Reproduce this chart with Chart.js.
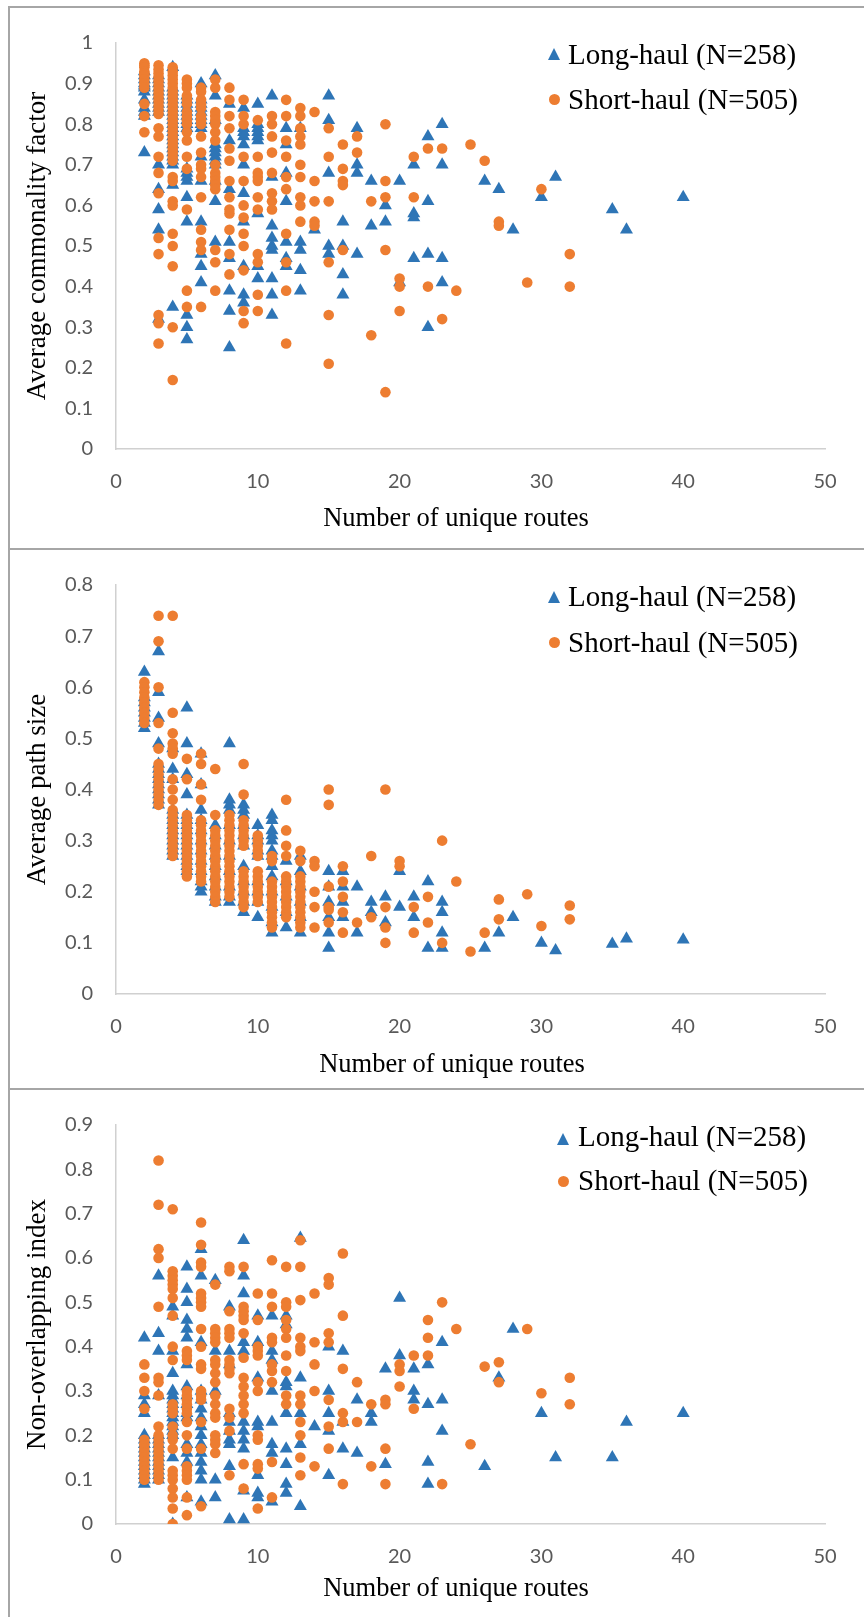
<!DOCTYPE html>
<html><head><meta charset="utf-8">
<script src="https://cdn.jsdelivr.net/npm/chart.js@4.4.1/dist/chart.umd.min.js"></script>
<style>
html,body{margin:0;padding:0;background:#fff;}
#page{position:relative;width:864px;height:1617px;overflow:hidden;background:#fff;}
.line{position:absolute;background:#a6a6a6;}
canvas{position:absolute;}
.lg{position:absolute;font-family:"Liberation Serif","Times New Roman",serif;font-size:29px;line-height:29px;color:#000;white-space:nowrap;z-index:2;}
.xt{position:absolute;width:400px;text-align:center;font-family:"Liberation Serif","Times New Roman",serif;font-size:26.5px;line-height:32px;height:32px;color:#000;white-space:nowrap;z-index:2;}
.tri{position:absolute;width:0;height:0;border-left:6.5px solid transparent;border-right:6.5px solid transparent;border-bottom:12px solid #2E75B6;z-index:2;}
.dot{position:absolute;width:11px;height:11px;border-radius:50%;background:#ED7D31;z-index:2;}
</style></head>
<body><div id="page">
<div class="line" style="left:8px;top:6px;width:856px;height:2px"></div>
<div class="line" style="left:8px;top:6px;width:2px;height:1611px"></div>
<div class="line" style="left:8px;top:548px;width:856px;height:2px"></div>
<div class="line" style="left:8px;top:1088px;width:856px;height:2px"></div>
<canvas id="c1" width="854" height="540" style="left:10px;top:8px"></canvas>
<canvas id="c2" width="854" height="538" style="left:10px;top:550px"></canvas>
<canvas id="c3" width="854" height="527" style="left:10px;top:1090px"></canvas>

<div class="tri" style="left:547.5px;top:48px"></div>
<div class="lg" style="left:568px;top:40px">Long-haul (N=258)</div>
<div class="dot" style="left:548.5px;top:93.8px"></div>
<div class="lg" style="left:568px;top:85px">Short-haul (N=505)</div>
<div class="xt" style="left:256px;top:501px">Number of unique routes</div>

<div class="tri" style="left:547.5px;top:591px"></div>
<div class="lg" style="left:568px;top:582.4px">Long-haul (N=258)</div>
<div class="dot" style="left:548.5px;top:636.8px"></div>
<div class="lg" style="left:568px;top:627.7px">Short-haul (N=505)</div>
<div class="xt" style="left:252px;top:1047px">Number of unique routes</div>

<div class="tri" style="left:556.8px;top:1133.3px"></div>
<div class="lg" style="left:578px;top:1122.4px">Long-haul (N=258)</div>
<div class="dot" style="left:557.8px;top:1175.5px"></div>
<div class="lg" style="left:578px;top:1166.4px">Short-haul (N=505)</div>
<div class="xt" style="left:256px;top:1571px">Number of unique routes</div>
</div>
<script>
// ---------- Panel 1: Average commonality factor ----------
const commonLongX = [2,3,4,5,6,7,8,9,10,11,12,13,14,15,16,17,18,19,20,21,22,23,26,27,28,30,31,35,36,40];
const commonLongY = [
 [0.93,0.92,0.91,0.90,0.895,0.89,0.88,0.86,0.84,0.83,0.82,0.73],
 [0.92,0.91,0.90,0.89,0.88,0.87,0.86,0.85,0.84,0.83,0.70,0.64,0.59,0.54,0.32],
 [0.94,0.89,0.88,0.87,0.86,0.85,0.84,0.83,0.82,0.81,0.80,0.79,0.78,0.77,0.76,0.75,0.74,0.73,0.72,0.71,0.70,0.65,0.35],
 [0.87,0.86,0.85,0.84,0.83,0.82,0.81,0.80,0.79,0.69,0.68,0.67,0.66,0.62,0.56,0.33,0.30,0.27],
 [0.90,0.86,0.85,0.84,0.83,0.82,0.81,0.80,0.79,0.72,0.66,0.56,0.48,0.45,0.41],
 [0.92,0.87,0.81,0.75,0.74,0.73,0.72,0.71,0.70,0.66,0.61,0.51],
 [0.85,0.76,0.64,0.51,0.47,0.39,0.34,0.25],
 [0.84,0.79,0.78,0.77,0.75,0.70,0.63,0.56,0.45,0.38,0.36],
 [0.85,0.80,0.79,0.78,0.77,0.76,0.58,0.45,0.42],
 [0.87,0.67,0.55,0.52,0.50,0.49,0.42,0.38,0.33],
 [0.79,0.75,0.68,0.61,0.51,0.47,0.45],
 [0.79,0.51,0.49,0.44,0.39],
 [0.54],
 [0.87,0.81,0.68,0.50,0.48],
 [0.56,0.50,0.43,0.38],
 [0.79,0.70,0.68,0.48],
 [0.66,0.55],
 [0.60,0.56],
 [0.66,0.41],
 [0.70,0.58,0.57,0.47],
 [0.77,0.61,0.48,0.30],
 [0.80,0.70,0.47,0.41],
 [0.66],[0.64],[0.54],[0.62],[0.67],[0.59],[0.54],[0.62]
];
const commonShortX = [2,3,4,5,6,7,8,9,10,11,12,13,14,15,16,17,18,19,20,21,22,23,24,25,26,27,29,30,32];
const commonShortY = [
 [0.95,0.945,0.94,0.93,0.925,0.92,0.91,0.90,0.89,0.85,0.82,0.78],
 [0.945,0.935,0.925,0.915,0.905,0.895,0.885,0.875,0.865,0.855,0.845,0.835,0.825,0.79,0.77,0.72,0.68,0.63,0.52,0.48,0.33,0.31,0.26],
 [0.94,0.93,0.92,0.91,0.90,0.89,0.88,0.87,0.86,0.85,0.84,0.83,0.82,0.81,0.80,0.79,0.78,0.77,0.76,0.75,0.74,0.73,0.72,0.71,0.67,0.66,0.61,0.60,0.53,0.50,0.45,0.30,0.17],
 [0.91,0.90,0.89,0.87,0.86,0.85,0.83,0.82,0.81,0.80,0.78,0.76,0.72,0.69,0.59,0.39,0.35],
 [0.89,0.88,0.86,0.85,0.84,0.82,0.81,0.80,0.77,0.73,0.70,0.69,0.67,0.62,0.54,0.51,0.49,0.35],
 [0.91,0.89,0.83,0.82,0.81,0.80,0.78,0.76,0.70,0.68,0.67,0.66,0.65,0.64,0.49,0.46,0.39],
 [0.89,0.86,0.82,0.79,0.74,0.71,0.66,0.62,0.59,0.58,0.54,0.48,0.43],
 [0.86,0.82,0.80,0.72,0.66,0.60,0.57,0.53,0.50,0.44,0.34,0.31],
 [0.81,0.72,0.68,0.67,0.66,0.62,0.59,0.48,0.46,0.38,0.34],
 [0.82,0.80,0.77,0.73,0.68,0.63,0.61,0.59],
 [0.86,0.82,0.76,0.72,0.67,0.64,0.53,0.46,0.39,0.26],
 [0.84,0.82,0.79,0.77,0.75,0.70,0.67,0.62,0.60,0.56],
 [0.83,0.66,0.61,0.56,0.55],
 [0.79,0.72,0.61,0.46,0.33,0.21],
 [0.75,0.69,0.66,0.65,0.49],
 [0.77,0.73],
 [0.61,0.28],
 [0.80,0.66,0.62,0.49,0.14],
 [0.42,0.40,0.34],
 [0.72,0.62],
 [0.74,0.40],
 [0.74,0.32],
 [0.39],[0.75],[0.71],[0.56,0.55],[0.41],[0.64],[0.48,0.40]
];

// ---------- Panel 2: Average path size ----------
const pathLongX = [2,3,4,5,6,7,8,9,10,11,12,13,15,16,17,18,19,20,21,22,23,26,27,28,30,31,35,36,40];
const pathLongY = [
 [0.63,0.58,0.57,0.56,0.55,0.54,0.53,0.52],
 [0.67,0.59,0.54,0.49,0.45,0.44,0.43,0.42,0.41,0.40,0.39,0.38,0.37],
 [0.48,0.44,0.42,0.36,0.35,0.34,0.33,0.32,0.31,0.30,0.29,0.28,0.27],
 [0.56,0.49,0.43,0.39,0.35,0.34,0.33,0.32,0.31,0.30,0.29,0.28,0.27,0.26,0.25,0.24],
 [0.47,0.41,0.36,0.34,0.32,0.30,0.28,0.26,0.24,0.22,0.21,0.20],
 [0.33,0.31,0.29,0.27,0.25,0.23,0.21,0.19,0.18],
 [0.49,0.38,0.37,0.36,0.33,0.30,0.27,0.24,0.21,0.19,0.18],
 [0.37,0.36,0.35,0.33,0.31,0.29,0.25,0.22,0.20,0.18,0.16],
 [0.33,0.31,0.30,0.28,0.27,0.22,0.20,0.18,0.15],
 [0.35,0.34,0.32,0.31,0.30,0.28,0.27,0.25,0.23,0.20,0.17,0.14,0.12],
 [0.26,0.22,0.19,0.16,0.13],
 [0.27,0.24,0.21,0.18,0.15,0.12],
 [0.24,0.21,0.18,0.15,0.12,0.09],
 [0.24,0.21,0.18,0.15],
 [0.21,0.12],
 [0.18,0.16],
 [0.19,0.14],
 [0.24,0.17],
 [0.19,0.15],
 [0.22,0.09],
 [0.18,0.16,0.12,0.09],
 [0.09],[0.12],[0.15],[0.10],[0.085],[0.098],[0.108],[0.106]
];
const pathShortX = [2,3,4,5,6,7,8,9,10,11,12,13,14,15,16,17,18,19,20,21,22,23,24,25,26,27,29,30,32];
const pathShortY = [
 [0.61,0.60,0.59,0.58,0.57,0.56,0.55,0.54,0.53],
 [0.74,0.69,0.60,0.53,0.48,0.45,0.44,0.43,0.42,0.41,0.40,0.39,0.38,0.37],
 [0.74,0.55,0.51,0.49,0.48,0.47,0.42,0.40,0.38,0.36,0.35,0.34,0.33,0.32,0.31,0.30,0.29,0.28,0.27],
 [0.46,0.42,0.35,0.34,0.33,0.32,0.31,0.30,0.29,0.28,0.27,0.26,0.25,0.24,0.23],
 [0.47,0.45,0.41,0.38,0.34,0.33,0.32,0.31,0.30,0.29,0.28,0.27,0.26,0.25,0.24,0.23,0.22],
 [0.44,0.35,0.32,0.31,0.30,0.29,0.28,0.27,0.26,0.25,0.24,0.23,0.22,0.21,0.20,0.19,0.18],
 [0.35,0.34,0.33,0.32,0.31,0.30,0.29,0.28,0.27,0.26,0.25,0.24,0.23,0.22,0.21,0.20,0.19],
 [0.45,0.39,0.34,0.33,0.32,0.31,0.30,0.29,0.24,0.23,0.22,0.21,0.20,0.19,0.18,0.17],
 [0.31,0.30,0.29,0.28,0.27,0.24,0.23,0.22,0.21,0.20,0.19,0.18],
 [0.27,0.26,0.22,0.21,0.20,0.19,0.18,0.17,0.16,0.15,0.14,0.13],
 [0.38,0.32,0.29,0.27,0.23,0.22,0.21,0.20,0.19,0.18,0.17,0.16,0.15],
 [0.28,0.26,0.23,0.22,0.21,0.20,0.19,0.18,0.17,0.16,0.15,0.14,0.13],
 [0.26,0.25,0.20,0.17,0.13],
 [0.40,0.37,0.21,0.17,0.165,0.14],
 [0.25,0.22,0.19,0.16,0.12],
 [0.14],
 [0.27,0.15],
 [0.40,0.17,0.13,0.10],
 [0.26,0.25],
 [0.17,0.12],
 [0.19,0.14],
 [0.30,0.10],
 [0.22],[0.083],[0.12],[0.185,0.146],[0.195],[0.133],[0.173,0.146]
];

// ---------- Panel 3: Non-overlapping index ----------
const nonoverLongX = [2,3,4,5,6,7,8,9,10,11,12,13,14,15,16,17,18,19,20,21,22,23,26,27,28,30,31,35,36,40];
const nonoverLongY = [
 [0.42,0.29,0.27,0.25,0.20,0.19,0.18,0.17,0.16,0.15,0.14,0.13,0.12,0.11,0.10,0.09],
 [0.56,0.43,0.39,0.29,0.20,0.19,0.18,0.17,0.16,0.15,0.14,0.13,0.12,0.11,0.10],
 [0.49,0.47,0.39,0.34,0.30,0.29,0.28,0.27,0.26,0.25,0.24,0.23,0.22,0.21,0.20,0.15,0.00],
 [0.58,0.53,0.50,0.46,0.44,0.42,0.36,0.31,0.29,0.27,0.25,0.24,0.18,0.16,0.14,0.06],
 [0.62,0.56,0.41,0.30,0.28,0.26,0.24,0.22,0.20,0.18,0.16,0.14,0.12,0.10,0.05],
 [0.55,0.39,0.30,0.10,0.06],
 [0.49,0.39,0.36,0.25,0.23,0.21,0.19,0.18,0.13,0.01],
 [0.64,0.56,0.52,0.41,0.39,0.23,0.21,0.19,0.17,0.075,0.01],
 [0.47,0.41,0.33,0.23,0.22,0.11,0.07,0.06],
 [0.47,0.39,0.37,0.30,0.23,0.18,0.16,0.05],
 [0.47,0.45,0.32,0.31,0.25,0.17,0.135,0.09,0.07],
 [0.645,0.33,0.25,0.18,0.04],
 [0.22],
 [0.40,0.30,0.25,0.21,0.11],
 [0.39,0.23,0.17],
 [0.28,0.16],
 [0.25,0.23],
 [0.35,0.135],
 [0.51,0.38],
 [0.35,0.30,0.28],
 [0.36,0.27,0.14,0.09],
 [0.41,0.28,0.21],
 [0.13],[0.33],[0.44],[0.25],[0.15],[0.15],[0.23],[0.25]
];
const nonoverShortX = [2,3,4,5,6,7,8,9,10,11,12,13,14,15,16,17,18,19,20,21,22,23,24,25,26,27,29,30,32];
const nonoverShortY = [
 [0.36,0.33,0.30,0.26,0.19,0.18,0.17,0.16,0.15,0.14,0.13,0.12,0.11,0.10],
 [0.82,0.72,0.62,0.60,0.49,0.33,0.32,0.29,0.22,0.20,0.19,0.18,0.17,0.16,0.15,0.14,0.13,0.12,0.11,0.10],
 [0.71,0.57,0.56,0.55,0.54,0.53,0.51,0.47,0.40,0.37,0.27,0.26,0.25,0.22,0.20,0.19,0.17,0.12,0.11,0.10,0.08,0.06,0.035,0.00],
 [0.39,0.38,0.37,0.30,0.29,0.28,0.27,0.26,0.25,0.23,0.20,0.17,0.13,0.12,0.11,0.10,0.06,0.02],
 [0.68,0.63,0.59,0.58,0.52,0.51,0.50,0.49,0.44,0.40,0.36,0.35,0.30,0.29,0.28,0.23,0.17,0.04],
 [0.54,0.44,0.43,0.42,0.41,0.37,0.36,0.34,0.32,0.29,0.27,0.25,0.24,0.20,0.19,0.18,0.16],
 [0.58,0.57,0.48,0.44,0.43,0.42,0.37,0.36,0.35,0.34,0.26,0.24,0.21,0.11],
 [0.58,0.49,0.48,0.47,0.46,0.43,0.375,0.33,0.31,0.29,0.27,0.25,0.135,0.08],
 [0.52,0.46,0.40,0.39,0.38,0.32,0.30,0.20,0.19,0.135,0.125,0.035],
 [0.595,0.52,0.49,0.42,0.41,0.36,0.345,0.32,0.14,0.06],
 [0.58,0.50,0.49,0.46,0.44,0.42,0.38,0.345,0.29,0.27],
 [0.64,0.58,0.505,0.42,0.40,0.39,0.29,0.27,0.23,0.20,0.15,0.11],
 [0.52,0.41,0.36,0.30,0.13],
 [0.555,0.54,0.43,0.41,0.28,0.22,0.17],
 [0.61,0.47,0.35,0.25,0.23,0.09],
 [0.32,0.23],
 [0.27,0.13],
 [0.28,0.27,0.17,0.09],
 [0.36,0.345,0.31],
 [0.38,0.26],
 [0.46,0.42,0.38],
 [0.50,0.09],
 [0.44],[0.18],[0.355],[0.365,0.32],[0.44],[0.295],[0.33,0.27]
];

const xTicksStep = 10;
const xMax = 50;

function toPoints(xs, ys) {
  const pts = [];
  xs.forEach((x, i) => ys[i].forEach(y => pts.push({x: x, y: y})));
  return pts;
}

const BLUE = '#2E75B6', ORANGE = '#ED7D31';
const tickFont = {family: 'Lato', size: 20};
const titleFont = {family: 'Liberation Serif', size: 27};

function makePanel(id, longPts, shortPts, yMax, yTitle, g) {
  new Chart(document.getElementById(id), {
    type: 'scatter',
    data: {
      datasets: [
        {label: 'Long-haul (N=258)', data: longPts, pointStyle: 'triangle', pointRadius: 7.5,
         backgroundColor: BLUE, borderColor: BLUE, borderWidth: 0, order: 1},
        {label: 'Short-haul (N=505)', data: shortPts, pointStyle: 'circle', pointRadius: 5.3,
         backgroundColor: ORANGE, borderColor: ORANGE, borderWidth: 0, order: 0}
      ]
    },
    options: {
      responsive: false, animation: false, devicePixelRatio: 1, events: [],
      layout: {padding: {left: 0, right: g.padRight, top: g.padTop, bottom: 0}},
      plugins: {legend: {display: false}, tooltip: {enabled: false}},
      scales: {
        x: {
          type: 'linear', position: 'bottom', min: 0, max: xMax,
          ticks: {stepSize: xTicksStep, padding: 21, color: '#595959', font: tickFont, maxRotation: 0},
          grid: {display: false, drawTicks: false},
          border: {display: true, color: '#d0d0d0', width: 1.5},
          title: {display: false},
          afterFit(s) { s.height = g.xH; }
        },
        y: {
          type: 'linear', position: 'left', min: 0, max: yMax,
          ticks: {stepSize: 0.1, padding: 23, color: '#595959', font: tickFont,
                  callback: v => String(Math.round(v * 10) / 10)},
          grid: {display: false, drawTicks: false},
          border: {display: true, color: '#d0d0d0', width: 1.5},
          title: {display: true, text: yTitle, color: '#000', font: titleFont,
                  padding: {top: 12, bottom: 0}},
          afterFit(s) { s.width = 106; }
        }
      }
    }
  });
}

makePanel('c1', toPoints(commonLongX, commonLongY), toPoints(commonShortX, commonShortY), 1,
  'Average commonality factor', {padRight: 39, padTop: 26, xH: 99});
makePanel('c2', toPoints(pathLongX, pathLongY), toPoints(pathShortX, pathShortY), 0.8,
  'Average path size', {padRight: 39, padTop: 28, xH: 94});
makePanel('c3', toPoints(nonoverLongX, nonoverLongY), toPoints(nonoverShortX, nonoverShortY), 0.9,
  'Non-overlapping index', {padRight: 39, padTop: 28.5, xH: 93});
</script>
</body></html>
